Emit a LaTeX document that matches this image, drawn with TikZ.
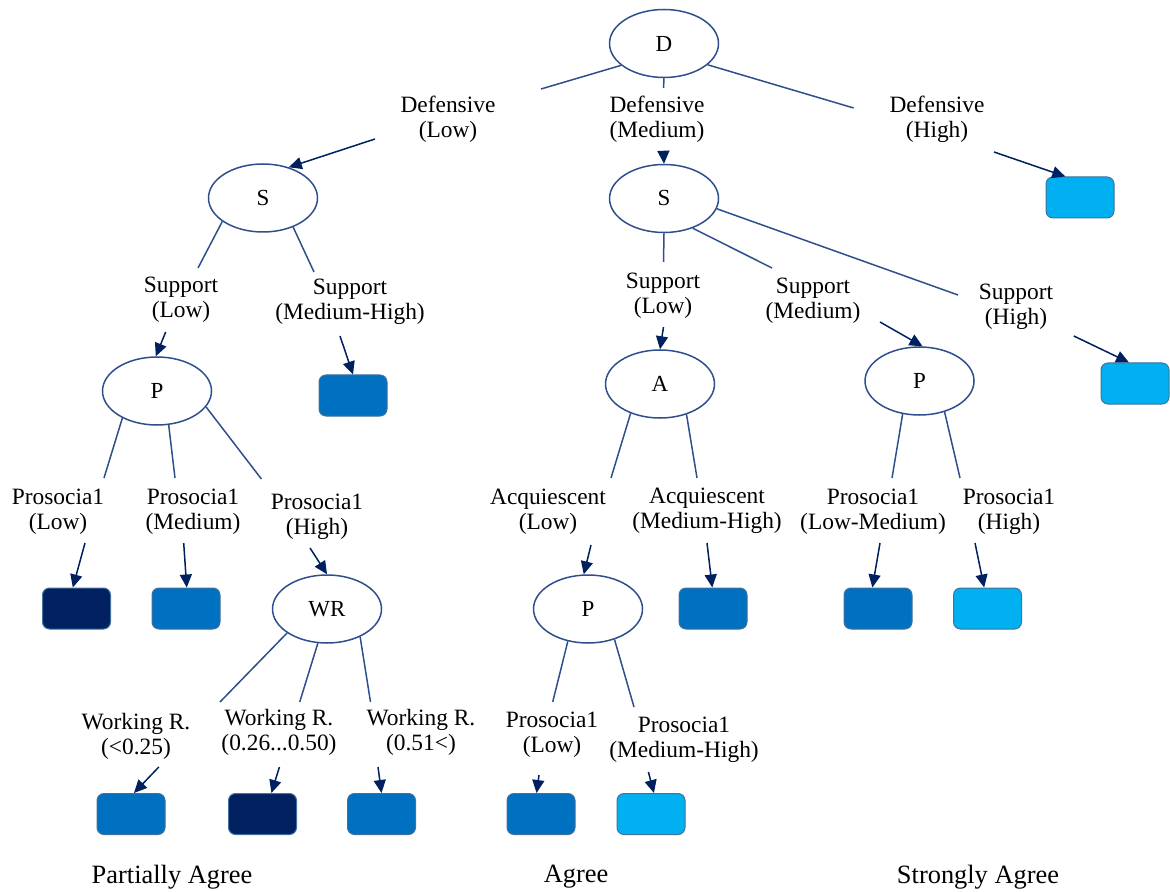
\documentclass[tikz,border=0pt]{standalone}
\usepackage{fontspec}
\setmainfont{Liberation Serif}
\usetikzlibrary{shapes.geometric,arrows.meta}
\definecolor{edgecol}{HTML}{2F4E8C}
\definecolor{arrcol}{HTML}{002060}
\definecolor{navy}{HTML}{002060}
\definecolor{midblue}{HTML}{0070C0}
\definecolor{lightblue}{HTML}{00B0F0}
\definecolor{rectborder}{HTML}{41719C}
\tikzset{
  dnode/.style={ellipse,draw=edgecol,line width=0.75pt,fill=white,minimum width=54.5pt,minimum height=34pt,inner sep=0pt,font=\fontsize{11.5}{12.5}\selectfont},
  leaf/.style={rectangle,rounded corners=3.5pt,draw=rectborder,line width=0.5pt,minimum width=34pt,minimum height=20.5pt,inner sep=0pt},
  lbl/.style={align=center,inner sep=0pt,font=\fontsize{11.7}{12.5}\selectfont},
  cls/.style={inner sep=0pt,font=\fontsize{13.2}{15}\selectfont},
  seg/.style={draw=edgecol,line width=0.75pt},
  arr/.style={draw=arrcol,line width=0.75pt,-{Triangle[length=6.5pt,width=6pt]},fill=arrcol}
}
\begin{document}
\begin{tikzpicture}[x=0.5pt,y=-0.5pt]
\useasboundingbox (0,0) rectangle (1170,892);
% decision nodes
\node[dnode] (D) at (664,43.5) {D};
\node[dnode] (S1) at (263,198) {S};
\node[dnode] (S2) at (664,198.5) {S};
\node[dnode] (P1) at (157,391) {P};
\node[dnode] (A) at (660,384) {A};
\node[dnode] (P3) at (919.5,381) {P};
\node[dnode] (WR) at (327,609) {WR};
\node[dnode] (P2) at (588,609) {P};
% leaves
\node[leaf,fill=lightblue] (L1) at (1080,197.5) {};
\node[leaf,fill=lightblue] (L2) at (1135,383.5) {};
\node[leaf,fill=midblue] (L3) at (353,395.5) {};
\node[leaf,fill=navy] (L4) at (76.5,608.5) {};
\node[leaf,fill=midblue] (L5) at (186,608.5) {};
\node[leaf,fill=midblue] (L6) at (713,608.5) {};
\node[leaf,fill=midblue] (L7) at (878,608.5) {};
\node[leaf,fill=lightblue] (L8) at (987.5,608.5) {};
\node[leaf,fill=midblue] (L9) at (131,814) {};
\node[leaf,fill=navy] (L10) at (262.5,814) {};
\node[leaf,fill=midblue] (L11) at (381.5,814) {};
\node[leaf,fill=midblue] (L12) at (541,814) {};
\node[leaf,fill=lightblue] (L13) at (651,814) {};
% edge labels
\node[lbl] (tDL) at (448,119) {Defensive\\(Low)};
\node[lbl] (tDM) at (657,119) {Defensive\\(Medium)};
\node[lbl] (tDH) at (937,119) {Defensive\\(High)};
\node[lbl] (tSL1) at (181,300) {Support\\(Low)};
\node[lbl] (tSMH) at (350,302) {Support\\(Medium-High)};
\node[lbl] (tSL2) at (663,296) {Support\\(Low)};
\node[lbl] (tSM) at (813,300.5) {Support\\(Medium)};
\node[lbl] (tSH) at (1016,306.5) {Support\\(High)};
\node[lbl] (tPL) at (58,512) {Prosocia1\\(Low)};
\node[lbl] (tPM) at (193,512) {Prosocia1\\(Medium)};
\node[lbl] (tPH) at (317,517) {Prosocia1\\(High)};
\node[lbl] (tAL) at (548,512) {Acquiescent\\(Low)};
\node[lbl] (tAMH) at (707,511) {Acquiescent\\(Medium-High)};
\node[lbl] (tPLM) at (873,512) {Prosocia1\\(Low-Medium)};
\node[lbl] (tPH2) at (1009,512) {Prosocia1\\(High)};
\node[lbl] (tW1) at (136,736) {Working R.\\(<0.25)};
\node[lbl] (tW2) at (279,732) {Working R.\\(0.26...0.50)};
\node[lbl] (tW3) at (421,732) {Working R.\\(0.51<)};
\node[lbl] (tPL2) at (552,735) {Prosocia1\\(Low)};
\node[lbl] (tPMH) at (684,740) {Prosocia1\\(Medium-High)};
% class labels
\node[cls] (cPA) at (172,877) {Partially Agree};
\node[cls] (cA) at (576,877) {Agree};
\node[cls] (cSA) at (978,877) {Strongly Agree};
% connector end coordinates
\coordinate (aDL) at (541,89);   \coordinate (bDL) at (375,139);
\coordinate (aDM) at (663.5,88); \coordinate (bDM) at (663.5,153);
\coordinate (aDH) at (853.6,108);\coordinate (bDH) at (994,152);
\coordinate (aSL1) at (198,268); \coordinate (bSL1) at (165.7,332);
\coordinate (aSMH) at (314,272); \coordinate (bSMH) at (340,336);
\coordinate (aSL2) at (663.5,262);\coordinate (bSL2) at (663.5,327);
\coordinate (aSM) at (772,268);  \coordinate (bSM) at (880,322);
\coordinate (aSH) at (958,295);  \coordinate (bSH) at (1073.8,336);
\coordinate (aPL) at (104,478);  \coordinate (bPL) at (85,543);
\coordinate (aPM) at (175,478);  \coordinate (bPM) at (183.7,543);
\coordinate (aPH) at (261.4,479);\coordinate (bPH) at (310,548);
\coordinate (aW1) at (220,702);  \coordinate (bW1) at (158.8,767);
\coordinate (aW2) at (299.7,702);\coordinate (bW2) at (279.4,767);
\coordinate (aW3) at (370.5,702);\coordinate (bW3) at (378,767);
\coordinate (aAL) at (611,478);  \coordinate (bAL) at (591,545);
\coordinate (aAMH) at (697,478); \coordinate (bAMH) at (707,543);
\coordinate (aPLM) at (892,478); \coordinate (bPLM) at (880,543);
\coordinate (aPH2) at (960,478); \coordinate (bPH2) at (975,543);
\coordinate (aPL2) at (552.7,702);\coordinate (bPL2) at (539,775);
\coordinate (aPMH) at (634,707); \coordinate (bPMH) at (648.4,772);
% connectors: parent to label, label to child
\draw[seg] (D.207) -- (aDL);    \draw[arr] (bDL) -- (S1.50);
\draw[seg] (D.270) -- (aDM);    \draw[arr] (bDM) -- (S2.90);
\draw[seg] (D.334) -- (aDH);    \draw[arr] (bDH) -- (L1.125);
\draw[seg] (S1.210) -- (aSL1);  \draw[arr] (bSL1) -- (P1.92);
\draw[seg] (S1.316) -- (aSMH);  \draw[arr] (bSMH) -- (L3.north);
\draw[seg] (S2.270) -- (aSL2);  \draw[arr] (bSL2) -- (A.90);
\draw[seg] (S2.314) -- (aSM);   \draw[arr] (bSM) -- (P3.85);
\draw[seg] (S2.349) -- (aSH);   \draw[arr] (bSH) -- (L2.106);
\draw[seg] (P1.218) -- (aPL);   \draw[arr] (bPL) -- (L4.100);
\draw[seg] (P1.289) -- (aPM);   \draw[arr] (bPM) -- (L5.88);
\draw[seg] (P1.342) -- (aPH);   \draw[arr] (bPH) -- (WR.90);
\draw[seg] (WR.211) -- (aW1);   \draw[arr] (bW1) -- (L9.82);
\draw[seg] (WR.255) -- (aW2);   \draw[arr] (bW2) -- (L10.67);
\draw[seg] (WR.320) -- (aW3);   \draw[arr] (bW3) -- (L11.90);
\draw[seg] (A.225) -- (aAL);    \draw[arr] (bAL) -- (P2.97);
\draw[seg] (A.311) -- (aAMH);   \draw[arr] (bAMH) -- (L6.92);
\draw[seg] (P3.243) -- (aPLM);  \draw[arr] (bPLM) -- (L7.105);
\draw[seg] (P3.309) -- (aPH2);  \draw[arr] (bPH2) -- (L8.99);
\draw[seg] (P2.238) -- (aPL2);  \draw[arr] (bPL2) -- (L12.102);
\draw[seg] (P2.311) -- (aPMH);  \draw[arr] (bPMH) -- (L13.82);
\end{tikzpicture}
\end{document}
